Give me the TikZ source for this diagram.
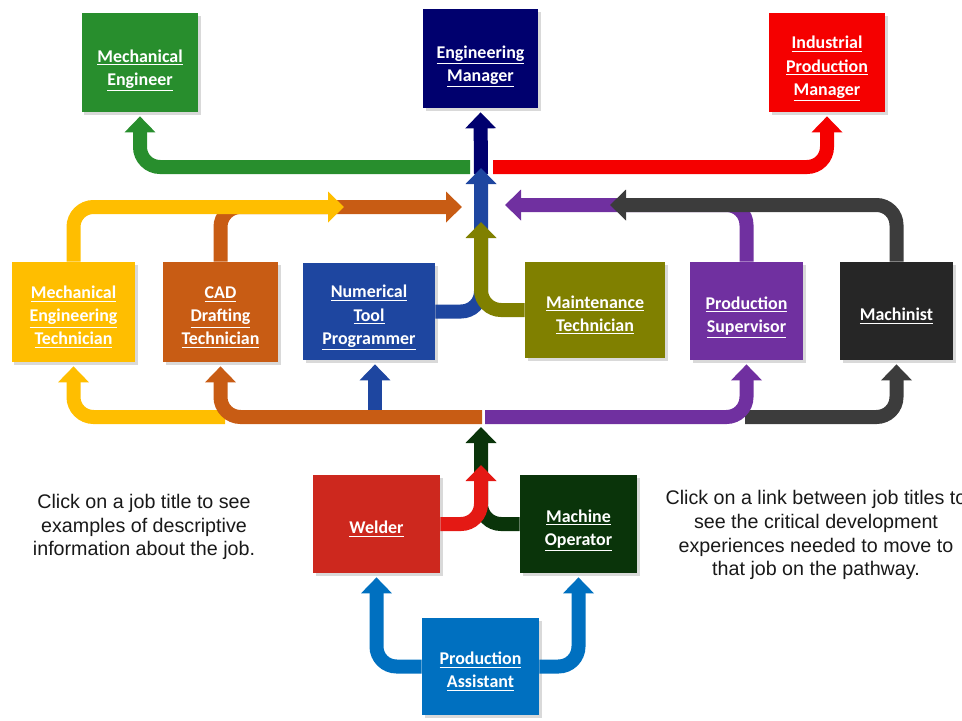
\documentclass[tikz,border=0pt]{standalone}
\usepackage{fontspec}
\setmainfont{Liberation Sans}
\newfontfamily\jobfont{Carlito}
\usepackage{xcolor}
\usetikzlibrary{arrows.meta,shadows}

\definecolor{cME}{RGB}{40,142,45}
\definecolor{cEM}{RGB}{0,0,110}
\definecolor{cIPM}{RGB}{245,0,0}
\definecolor{cMET}{RGB}{255,190,0}
\definecolor{cCAD}{RGB}{200,92,20}
\definecolor{cNTP}{RGB}{30,70,160}
\definecolor{cMT}{RGB}{128,128,0}
\definecolor{cPS}{RGB}{112,48,160}
\definecolor{cMAC}{RGB}{38,38,38}
\definecolor{cMACa}{RGB}{60,60,60}
\definecolor{cWEL}{RGB}{205,40,30}
\definecolor{cWELa}{RGB}{228,25,20}
\definecolor{cMO}{RGB}{10,52,10}
\definecolor{cPA}{RGB}{0,112,192}
\definecolor{notetext}{RGB}{25,25,25}

\newcommand\jt[1]{\underline{#1}}
% job title lines, set a little below the box centre
\newcommand\jb[2][1mm]{\raisebox{-#1}[\height][\depth]{\begin{tabular}{@{}c@{}}#2\end{tabular}}}

\begin{document}
\begin{tikzpicture}[x=0.2mm, y=-0.2mm]
    \tikzstyle{job}=[text=white, inner sep=0pt,
        font=\jobfont\bfseries\fontsize{10.2}{13.2}\selectfont,
        drop shadow={shadow xshift=0.5mm, shadow yshift=-0.6mm, opacity=0.3}]
    \tikzstyle{ar}=[line width=2.8mm, rounded corners=4mm, -{Triangle[width=6mm,length=3.2mm]}]
    \tikzstyle{arb}=[ar, shorten >=0.8mm]
    \tikzstyle{note}=[text=notetext, align=center, font=\fontsize{11.2}{13.6}\selectfont]
    \useasboundingbox (0,0) rectangle (962,721);

    % top row
    \node[job, fill=cME, minimum width=23.2mm, minimum height=19.8mm] (me) at (140,62.5) {\jb[1.3mm]{\jt{Mechanical}\\\jt{Engineer}}};
    \node[job, fill=cEM, minimum width=23mm, minimum height=19.8mm] (em) at (480.5,58.5) {\jb[1.3mm]{\jt{Engineering}\\\jt{Manager}}};
    \node[job, fill=cIPM, minimum width=23.2mm, minimum height=19.8mm] (ipm) at (827,62.5) {\jb[1mm]{\jt{Industrial}\\\jt{Production}\\\jt{Manager}}};

    % middle row
    \node[job, fill=cMET, minimum width=24.6mm, minimum height=20mm] (met) at (73.5,312) {\jb{\jt{Mechanical}\\\jt{Engineering}\\\jt{Technician}}};
    \node[job, fill=cCAD, minimum width=23mm, minimum height=20mm] (cad) at (220.5,312) {\jb{\jt{CAD}\\\jt{Drafting}\\\jt{Technician}}};
    \node[job, fill=cNTP, minimum width=26.4mm, minimum height=19.4mm] (ntp) at (369,311.5) {\jb{\jt{Numerical}\\\jt{Tool}\\\jt{Programmer}}};
    \node[job, fill=cMT, minimum width=28mm, minimum height=19.2mm] (mt) at (595,310) {\jb{\jt{Maintenance}\\\jt{Technician}}};
    \node[job, fill=cPS, minimum width=22.6mm, minimum height=19.6mm] (ps) at (746.5,311) {\jb{\jt{Production}\\\jt{Supervisor}}};
    \node[job, fill=cMAC, minimum width=22.6mm, minimum height=19.6mm] (mac) at (896.5,311) {\jb{\jt{Machinist}}};

    % bottom rows
    \node[job, fill=cWEL, minimum width=25.4mm, minimum height=19.6mm] (wel) at (376.5,524) {\jb{\jt{Welder}}};
    \node[job, fill=cMO, minimum width=23.4mm, minimum height=19.6mm] (mo) at (578.5,524) {\jb{\jt{Machine}\\\jt{Operator}}};
    \node[job, fill=cPA, minimum width=23.4mm, minimum height=19.4mm] (pa) at (480.5,666.5) {\jb{\jt{Production}\\\jt{Assistant}}};

    \node[note] (lnote) at (144,527) {Click on a job title to see\\examples of descriptive\\information about the job.};
    \node[note] (rnote) at (816,535) {Click on a link between job titles to\\see the critical development\\experiences needed to move to\\that job on the pathway.};

    \coordinate (hubL) at (470,167);
    \coordinate (hubR) at (493,167);
    \coordinate (hubN) at (481,174);
    \coordinate (topY) at (344,207);
    \coordinate (topO) at (462,207);
    \coordinate (topP) at (505,205);
    \coordinate (topG) at (610,205);
    \coordinate (tipB) at (481,168);
    \coordinate (tipO) at (481,222);
    \coordinate (botL) at (482,417);
    \coordinate (botR) at (485,417);
    \coordinate (botY) at (225,417);
    \coordinate (botK) at (745,417);
    \coordinate (ntpB) at (375,417);
    \coordinate (tipDG) at (481,427);
    \coordinate (tipR) at (481,465);

    % upward to the managers
    \draw[arb, cEM] (hubN) -- (em.south);
    \draw[arb, cME] (hubL) -| (me.south);
    \draw[arb, cIPM] (hubR) -| (ipm.south);

    % middle row towards the centre
    \draw[ar, cCAD] (cad.north) |- (topO);
    \draw[ar, cMET] (met.north) |- (topY);
    \draw[ar, cPS] (ps.north) |- (topP);
    \draw[ar, cMACa] (mac.north) |- (topG);
    \draw[ar, cNTP] (ntp.east) -| (tipB);
    \draw[ar, cMT] (mt.west) -| (tipO);

    % split line under the middle row
    \draw[arb, cMET] (botY) -| (met.south);
    \draw[arb, cNTP] (ntpB) -- (ntpB |- ntp.south);
    \draw[arb, cCAD] (botL) -| (cad.south);
    \draw[arb, cMACa] (botK) -| (mac.south);
    \draw[arb, cPS] (botR) -| (ps.south);

    % entry level
    \draw[ar, cMO] (mo.west) -| (tipDG);
    \draw[ar, cWELa] (wel.east) -| (tipR);
    \draw[arb, cPA] (pa.west) -| (wel.south);
    \draw[arb, cPA] (pa.east) -| (mo.south);
\end{tikzpicture}
\end{document}
